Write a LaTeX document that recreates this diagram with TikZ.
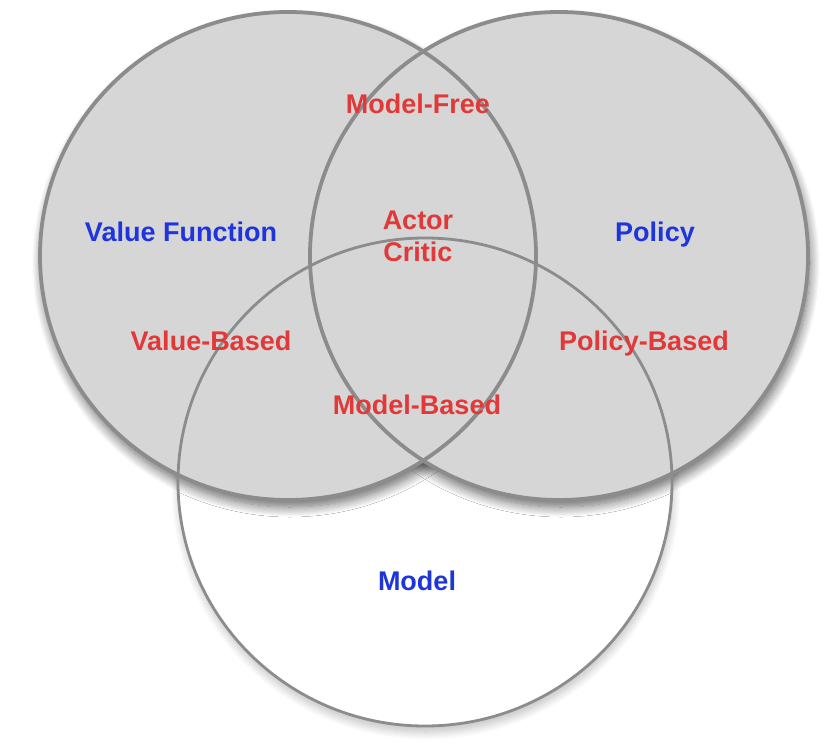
\documentclass[tikz,border=0pt]{standalone}
\usepackage{fontspec}
\setmainfont{Liberation Sans}
\usetikzlibrary{shadows.blur}
\definecolor{setfill}{RGB}{214,214,214}
\definecolor{setline}{RGB}{140,140,140}
\definecolor{lblblue}{RGB}{30,52,220}
\definecolor{lblred}{RGB}{226,56,56}
\tikzset{
  softshadow/.style={blur shadow={shadow xshift=2pt, shadow yshift=-7pt, shadow blur steps=14, shadow blur radius=10pt, shadow opacity=60}},
  setname/.style={text=lblblue, font=\fontsize{27}{30}\selectfont\bfseries, inner sep=0pt, anchor=base},
  approach/.style={text=lblred, font=\fontsize{27}{32}\selectfont\bfseries, inner sep=0pt, align=center},
  approachb/.style={approach, anchor=base},
  rim/.style={draw=setline, line width=3.8pt},
  thinrim/.style={draw=setline, line width=2.8pt}
}
\begin{document}
\begin{tikzpicture}[x=1pt,y=-1pt]
\useasboundingbox (0,0) rectangle (828,744);
% Model circle (bottom)
\fill[white, blur shadow={shadow xshift=1pt, shadow yshift=-6pt, shadow blur steps=12, shadow blur radius=8pt, shadow opacity=25}] (425,482) ellipse [x radius=247, y radius=244];
% shadows of the two grey circles
\fill[setfill, softshadow] (288,256) ellipse [x radius=248, y radius=244];
\fill[setfill, softshadow] (559,256) ellipse [x radius=249, y radius=244];
% fills
\fill[setfill] (288,256) ellipse [x radius=248, y radius=244];
\fill[setfill] (559,256) ellipse [x radius=249, y radius=244];
% outlines
\path[rim] (288,256) ellipse [x radius=248, y radius=244];
\path[rim] (559,256) ellipse [x radius=249, y radius=244];
\path[thinrim] (425,482) ellipse [x radius=247, y radius=244];
% labels
\node[setname] (vf) at (181,241) {Value Function};
\node[setname] (pol) at (655,241) {Policy};
\node[setname] (mod) at (417,590) {Model};
\node[approachb] (mf) at (418,113) {Model-Free};
\node[approach] (ac) at (418,236) {Actor\\Critic};
\node[approachb] (vb) at (211,350) {Value-Based};
\node[approachb] (pb) at (644,350) {Policy-Based};
\node[approachb] (mb) at (417,414) {Model-Based};
\end{tikzpicture}
\end{document}
